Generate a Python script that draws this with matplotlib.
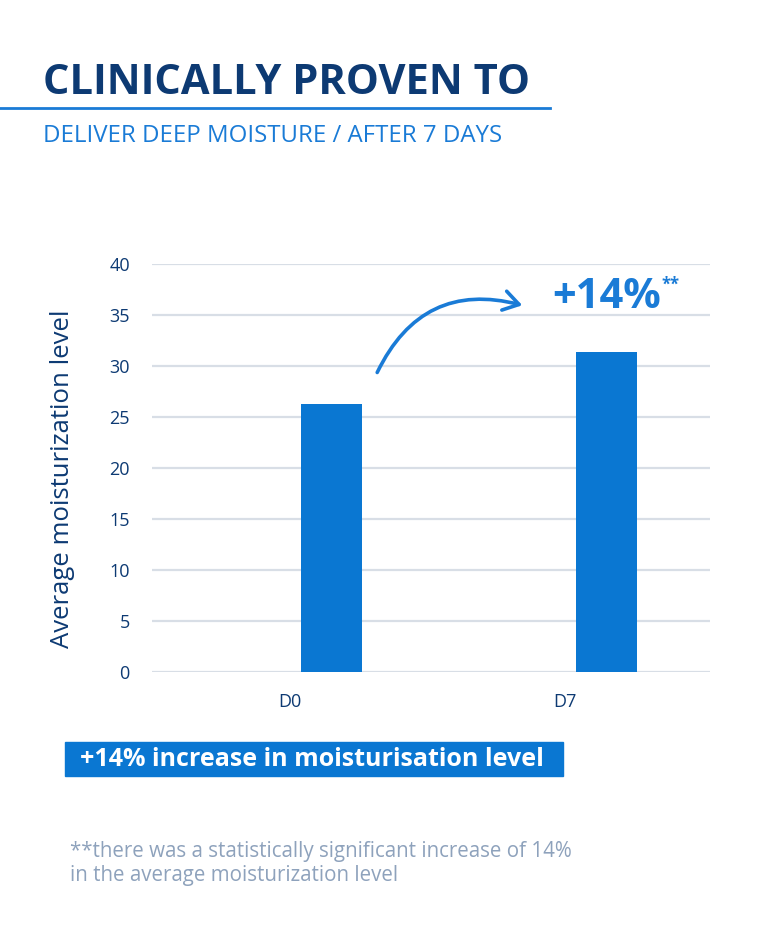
import matplotlib
matplotlib.use("Agg")
import matplotlib.pyplot as plt
from matplotlib.patches import FancyArrowPatch, Rectangle
from matplotlib.lines import Line2D

categories = ["D0", "D7"]
values = [26.3, 31.4]
yticks = [0, 5, 10, 15, 20, 25, 30, 35, 40]

W, H = 770, 932
fig = plt.figure(figsize=(W/100, H/100), dpi=100)
fig.patch.set_facecolor("white")

def fx(x): return x / W
def fy(y): return 1 - y / H

NAVY = "#0d3a73"
BLUE = "#0a77d2"
LBLUE = "#1a7bd6"
GRID = "#d8dee6"
FONT = "Open Sans"

ax = fig.add_axes([fx(152), fy(672), fx(710) - fx(152), fy(264) - fy(672)])
xpos = list(range(len(categories)))
ax.bar([x + 0.151 for x in xpos], values, width=0.222, color=BLUE, zorder=3)
ax.set_xlim(-0.502, 1.527)
ax.set_ylim(0, 40)
ax.set_yticks(yticks)
ax.set_yticklabels([str(t) for t in yticks], fontsize=13, color=NAVY, family=FONT)
ax.set_xticks(xpos)
ax.set_xticklabels(categories, fontsize=13, color=NAVY, family=FONT)
ax.tick_params(axis="both", length=0)
ax.tick_params(axis="y", pad=16)
ax.tick_params(axis="x", pad=15)
ax.grid(axis="y", color=GRID, linewidth=1.6, zorder=0)
for s in ax.spines.values():
    s.set_visible(False)
ax.set_ylabel("Average moisturization level", fontsize=18.5, color=NAVY, family=FONT,
              va="center", ha="center")
ax.yaxis.set_label_coords(-0.16, 0.473)

# header
fig.text(fx(43), fy(84), "CLINICALLY PROVEN TO", fontsize=30, fontweight="bold", color=NAVY,
         family=FONT, va="center", ha="left")
fig.add_artist(Line2D([0, fx(550)], [fy(108), fy(108)], color=LBLUE, linewidth=2))
fig.text(fx(43), fy(136), "DELIVER DEEP MOISTURE / AFTER 7 DAYS", fontsize=17.3, color=LBLUE,
         family=FONT, va="center", ha="left")

# annotation
arrow = FancyArrowPatch((fx(376), fy(375)), (fx(525), fy(306)), transform=fig.transFigure,
                        connectionstyle="arc3,rad=-0.42",
                        arrowstyle="->,head_length=11,head_width=7", color=LBLUE, linewidth=2.6)
fig.add_artist(arrow)
fig.text(fx(552), fy(297), "+14%", fontsize=30, fontweight="bold", color=LBLUE, family=FONT,
         va="center", ha="left")
fig.text(fx(661), fy(285), "**", fontsize=12, fontweight="bold", color=LBLUE, family=FONT,
         va="center", ha="left")

# banner
fig.add_artist(Rectangle((fx(65), fy(776)), fx(563) - fx(65), fy(742) - fy(776),
                         transform=fig.transFigure, color=BLUE))
fig.text(fx(80), fy(759), "+14% increase in moisturisation level", fontsize=18, fontweight="bold",
         color="white", family=FONT, va="center", ha="left")

# footnote
fig.text(fx(70), fy(851), "**there was a statistically significant increase of 14%", fontsize=14.8,
         color="#8ea2bc", family=FONT, va="center", ha="left")
fig.text(fx(70), fy(875), "in the average moisturization level", fontsize=14.8,
         color="#8ea2bc", family=FONT, va="center", ha="left")

fig.savefig("out.png", dpi=100)
